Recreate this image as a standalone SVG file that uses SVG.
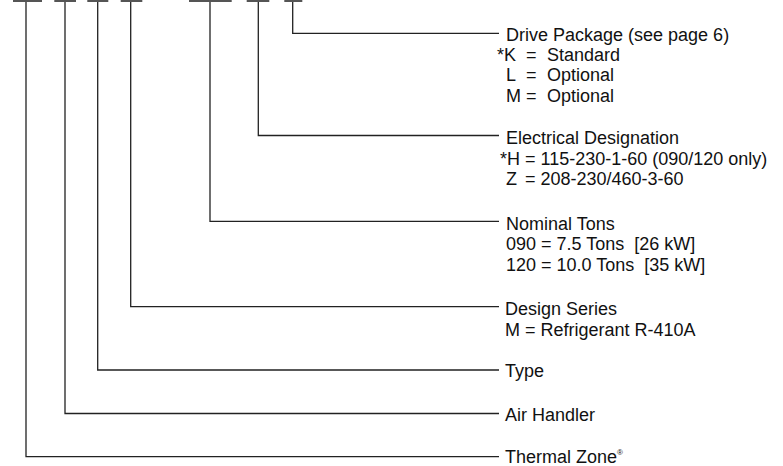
<svg xmlns="http://www.w3.org/2000/svg" width="783" height="466" viewBox="0 0 783 466">
<style>
  text { font-family: "Liberation Sans", Arial, Helvetica, sans-serif; font-size: 18px; fill: #111; }
  .bar { fill: #555; }
  .conn { fill: none; stroke: #222; stroke-width: 1.3; }
  .sup { font-size: 8px; }
</style>
<rect width="783" height="466" fill="#fff"/>
<g id="code-bars">
  <rect class="bar" x="13" y="0" width="29" height="2"/>
  <rect class="bar" x="54.3" y="0" width="21.7" height="2"/>
  <rect class="bar" x="87.3" y="0" width="21" height="2"/>
  <rect class="bar" x="120.7" y="0" width="21.6" height="2"/>
  <rect class="bar" x="189" y="0" width="42.7" height="2"/>
  <rect class="bar" x="246.7" y="0" width="22.6" height="2"/>
  <rect class="bar" x="284.3" y="0" width="18" height="2"/>
</g>
<g id="connectors">
  <path class="conn" d="M292.7 2 V33.3 H499"/>
  <path class="conn" d="M258.3 2 V135.5 H499"/>
  <path class="conn" d="M210 2 V221.3 H499"/>
  <path class="conn" d="M130.7 2 V306.7 H499"/>
  <path class="conn" d="M97.7 2 V370 H499"/>
  <path class="conn" d="M65 2 V413.5 H499"/>
  <path class="conn" d="M26 2 V456.7 H499"/>
</g>
<g id="drive-package">
  <text x="506" y="40.5">Drive Package (see page 6)</text>
  <text x="497" y="60.5">*K</text><text x="526" y="60.5">=</text><text x="547" y="60.5">Standard</text>
  <text x="506" y="81">L</text><text x="526" y="81">=</text><text x="547" y="81">Optional</text>
  <text x="506" y="101.5">M</text><text x="526" y="101.5">=</text><text x="547" y="101.5">Optional</text>
</g>
<g id="electrical-designation">
  <text x="506" y="144">Electrical Designation</text>
  <text x="500" y="164.5">*H</text><text x="525" y="164.5">=</text><text x="540.5" y="164.5">115-230-1-60 (090/120 only)</text>
  <text x="506" y="185">Z</text><text x="525" y="185">=</text><text x="540.5" y="185">208-230/460-3-60</text>
</g>
<g id="nominal-tons">
  <text x="506" y="229.5">Nominal Tons</text>
  <text x="506" y="250" xml:space="preserve">090 = 7.5 Tons  [26 kW]</text>
  <text x="506" y="270.5" xml:space="preserve">120 = 10.0 Tons  [35 kW]</text>
</g>
<g id="design-series">
  <text x="505" y="315">Design Series</text>
  <text x="505" y="335.5">M = Refrigerant R-410A</text>
</g>
<g id="type">
  <text x="505" y="377">Type</text>
</g>
<g id="air-handler">
  <text x="505" y="420.7">Air Handler</text>
</g>
<g id="thermal-zone">
  <text x="505" y="463">Thermal Zone<tspan class="sup" dy="-8">®</tspan></text>
</g>
</svg>
